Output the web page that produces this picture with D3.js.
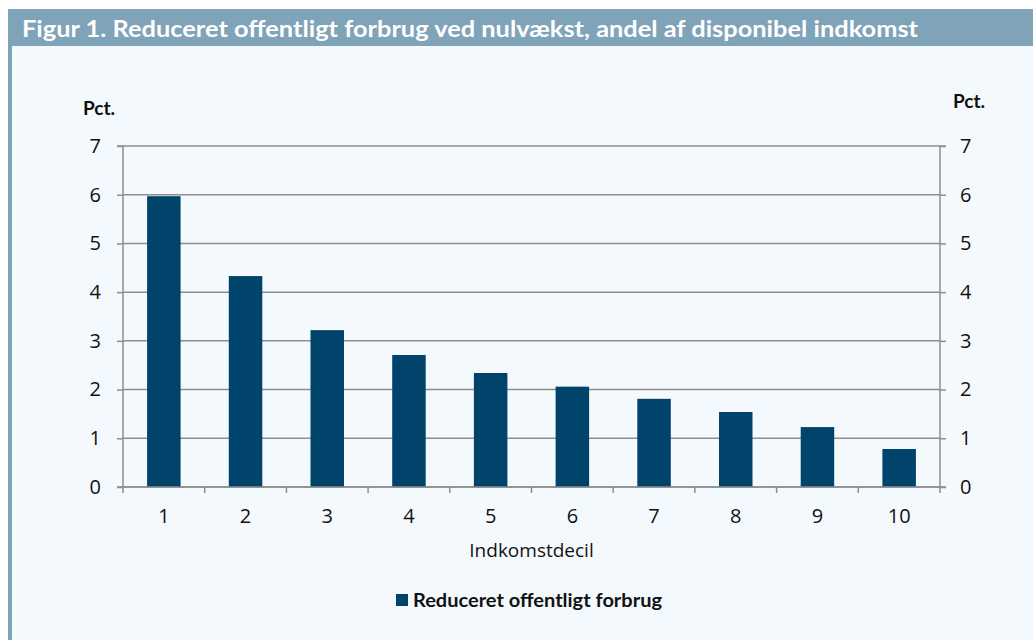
<!DOCTYPE html>
<html lang="da">
<head>
<meta charset="UTF-8">
<script src="https://d3js.org/d3.v7.min.js"></script>
<title>Figur 1</title>
<style>
  body { margin: 0; background: #fff; }
  svg { display: block; }
</style>
</head>
<body>
<script>
// data
var deciles = ["1", "2", "3", "4", "5", "6", "7", "8", "9", "10"];
var values = [5.97, 4.33, 3.22, 2.71, 2.34, 2.06, 1.81, 1.54, 1.23, 0.78];
var yTicks = [0, 1, 2, 3, 4, 5, 6, 7];
var title = "Figur 1. Reduceret offentligt forbrug ved nulvækst, andel af disponibel indkomst";
var seriesName = "Reduceret offentligt forbrug";

var W = 1033, H = 640;
var svg = d3.select("body").append("svg")
    .attr("width", W)
    .attr("height", H);

// panel background + left stripe
svg.append("rect").attr("x", 8).attr("y", 9).attr("width", W - 8).attr("height", H - 9)
    .attr("fill", "#f4f9fd");
svg.append("rect").attr("x", 8).attr("y", 9).attr("width", 4).attr("height", H - 9)
    .attr("fill", "#7fa3b8");
svg.append("rect").attr("x", 8).attr("y", 9).attr("width", W - 8).attr("height", 37)
    .attr("fill", "#7fa3b8");
svg.append("text")
    .attr("x", 22).attr("y", 37)
    .attr("fill", "#fff")
    .attr("font-family", "Lato, sans-serif")
    .attr("font-weight", 700)
    .attr("font-size", 23)
    .attr("textLength", 896)
    .attr("lengthAdjust", "spacingAndGlyphs")
    .text(title);

var pLeft = 123, pRight = 940, pTop = 146, pBottom = 487;

var x = d3.scaleBand().domain(deciles).range([pLeft, pRight]).paddingInner(0).paddingOuter(0);
var y = d3.scaleLinear().domain([0, 7]).range([pBottom, pTop]);

var g = svg.append("g");

// gridlines
g.selectAll("line.grid").data(yTicks).enter().append("line")
    .attr("class", "grid")
    .attr("x1", pLeft).attr("x2", pRight)
    .attr("y1", function(d) { return y(d); })
    .attr("y2", function(d) { return y(d); })
    .attr("stroke", "#8e8e8e")
    .attr("stroke-width", 1.5);

// bars
var bw = x.bandwidth() * 0.41;
g.selectAll("rect.bar").data(values).enter().append("rect")
    .attr("class", "bar")
    .attr("x", function(d, i) { return x(deciles[i]) + (x.bandwidth() - bw) / 2; })
    .attr("y", function(d) { return y(d); })
    .attr("width", bw)
    .attr("height", function(d) { return y(0) - y(d); })
    .attr("fill", "#00446b");

var fontTick = "'Open Sans', sans-serif";

// left axis
var yl = d3.axisLeft(y).tickValues(yTicks).tickSize(6).tickPadding(16).tickFormat(d3.format("d"));
var gl = svg.append("g").attr("transform", "translate(" + pLeft + ",0)").call(yl);
// right axis
var yr = d3.axisRight(y).tickValues(yTicks).tickSize(6).tickPadding(14).tickFormat(d3.format("d"));
var gr = svg.append("g").attr("transform", "translate(" + pRight + ",0)").call(yr);
// bottom axis: ticks at category boundaries
var xb = d3.axisBottom(x).tickSize(0).tickPadding(22);
var gb = svg.append("g").attr("transform", "translate(0," + pBottom + ")").call(xb);
var bounds = deciles.map(function(d) { return x(d); }).concat([pRight]);
gb.selectAll("line.bnd").data(bounds).enter().append("line")
    .attr("class", "bnd")
    .attr("x1", function(d) { return d; }).attr("x2", function(d) { return d; })
    .attr("y1", 0).attr("y2", 6)
    .attr("stroke", "#8e8e8e").attr("stroke-width", 1.5);

[gl, gr, gb].forEach(function(a) {
    a.select(".domain").attr("stroke", "#8e8e8e").attr("stroke-width", 1.5);
    a.selectAll(".tick line").attr("stroke", "#8e8e8e").attr("stroke-width", 1.5);
    a.selectAll(".tick text")
        .attr("fill", "#111")
        .attr("font-family", fontTick)
        .attr("font-size", 20);
});
gl.select(".domain").attr("d", "M-6," + pBottom + "H0V" + pTop + "H-6");
gr.select(".domain").attr("d", "M6," + pBottom + "H0V" + pTop + "H6");
gb.select(".domain").attr("d", "M" + pLeft + ",0H" + pRight);

// unit labels
svg.append("text").attr("x", 83).attr("y", 115)
    .attr("font-family", "Lato, sans-serif").attr("font-weight", 700).attr("font-size", 19)
    .attr("fill", "#111").text("Pct.");
svg.append("text").attr("x", 953).attr("y", 108)
    .attr("font-family", "Lato, sans-serif").attr("font-weight", 700).attr("font-size", 19)
    .attr("fill", "#111").text("Pct.");

// x axis title
svg.append("text").attr("x", (pLeft + pRight) / 2).attr("y", 557)
    .attr("text-anchor", "middle")
    .attr("font-family", fontTick).attr("font-size", 19)
    .attr("fill", "#111").text("Indkomstdecil");

// legend
var lg = svg.append("g").attr("transform", "translate(396,594)");
lg.append("rect").attr("width", 12).attr("height", 12).attr("fill", "#00446b");
lg.append("text").attr("x", 17).attr("y", 13)
    .attr("font-family", "Lato, sans-serif").attr("font-weight", 700).attr("font-size", 19)
    .attr("textLength", 249)
    .attr("lengthAdjust", "spacingAndGlyphs")
    .attr("fill", "#111").text(seriesName);
</script>
</body>
</html>
